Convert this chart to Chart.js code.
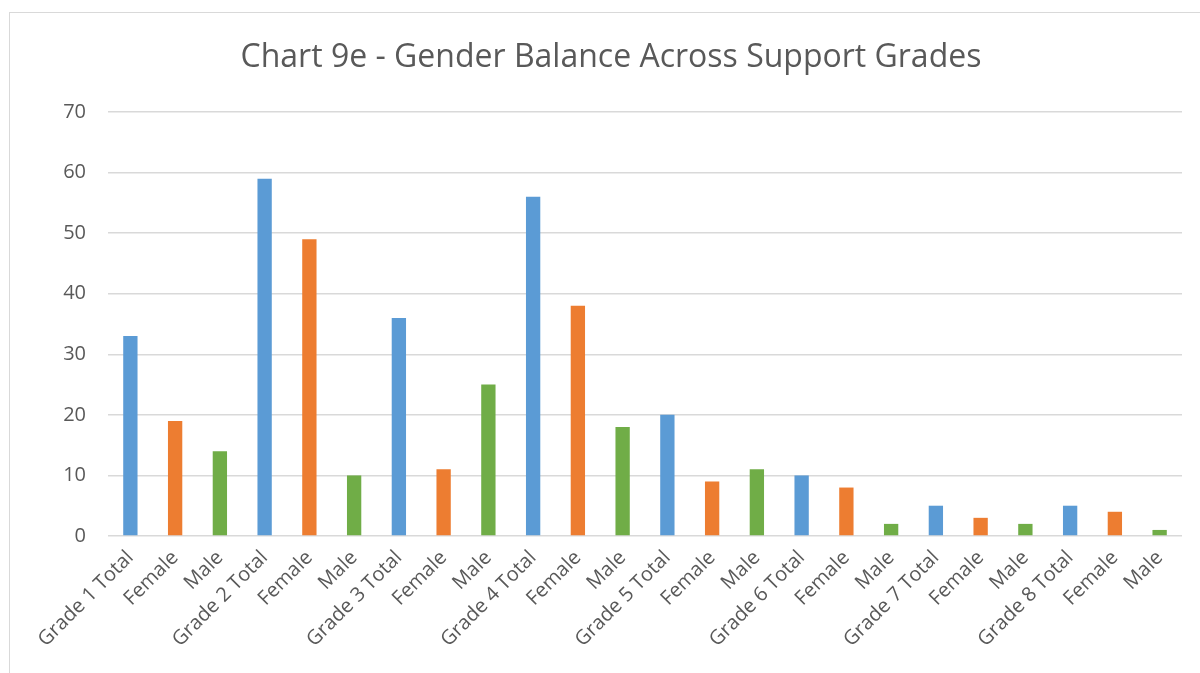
<!DOCTYPE html>
<html>
<head>
<meta charset="utf-8">
<script src="https://cdn.jsdelivr.net/npm/chart.js@4"></script>
<style>
  html, body { margin: 0; padding: 0; background: #fff; overflow: hidden; }
  #frame {
    position: absolute; left: 9px; top: 12px;
    width: 1204px; height: 680px;
    border: 1px solid #d9d9d9; box-sizing: border-box;
  }
  #chart { display: block; }
</style>
</head>
<body>
<div id="frame"><canvas id="chart" width="1202" height="660"></canvas></div>
<script>
// Chart data
const categories = [
  "Grade 1 Total", "Female", "Male",
  "Grade 2 Total", "Female", "Male",
  "Grade 3 Total", "Female", "Male",
  "Grade 4 Total", "Female", "Male",
  "Grade 5 Total", "Female", "Male",
  "Grade 6 Total", "Female", "Male",
  "Grade 7 Total", "Female", "Male",
  "Grade 8 Total", "Female", "Male"
];
const values = [33, 19, 14, 59, 49, 10, 36, 11, 25, 56, 38, 18, 20, 9, 11, 10, 8, 2, 5, 3, 2, 5, 4, 1];
const yTicks = [0, 10, 20, 30, 40, 50, 60, 70];
const chartTitle = "Chart 9e - Gender Balance Across Support Grades";

// Colour per row kind (total / female / male)
const kindColors = ["#5b9bd5", "#ed7d31", "#70ad47"];
const barColors = categories.map((c, i) => kindColors[i % 3]);

const fontFamily = "'Open Sans', 'Liberation Sans', sans-serif";
const textColor = "#595959";

// Draws title at a fixed spot, like the spreadsheet chart
const titlePlugin = {
  id: "fixedTitle",
  afterDraw: (chart) => {
    const { ctx } = chart;
    ctx.save();
    ctx.fillStyle = textColor;
    ctx.font = "32px " + fontFamily;
    ctx.textAlign = "center";
    ctx.textBaseline = "middle";
    ctx.fillText(chartTitle, 601, 45);
    ctx.restore();
  }
};

new Chart(document.getElementById("chart").getContext("2d"), {
  type: "bar",
  data: {
    labels: categories,
    datasets: [{
      data: values,
      backgroundColor: barColors,
      categoryPercentage: 1,
      barPercentage: 0.32,
    }]
  },
  options: {
    responsive: false,
    animation: false,
    layout: { padding: { top: 99, right: 30, left: 0, bottom: 0 } },
    plugins: {
      legend: { display: false },
      tooltip: { enabled: false },
    },
    scales: {
      x: {
        grid: { display: false, drawTicks: false },
        border: { display: false },
        ticks: {
          color: textColor,
          font: { family: fontFamily, size: 20 },
          maxRotation: 45,
          minRotation: 45,
          autoSkip: false,
          padding: 10,
        },
        afterFit: (scale) => { scale.height = 137; },
      },
      y: {
        min: 0,
        max: 70,
        afterBuildTicks: (scale) => { scale.ticks = yTicks.map(v => ({ value: v })); },
        grid: { color: "#d9d9d9", lineWidth: 1.5, drawTicks: false },
        border: { display: false },
        ticks: {
          color: textColor,
          font: { family: fontFamily, size: 20 },
          padding: 22,
        },
        afterFit: (scale) => { scale.width = 98; },
      }
    }
  },
  plugins: [titlePlugin]
});
</script>
</body>
</html>
